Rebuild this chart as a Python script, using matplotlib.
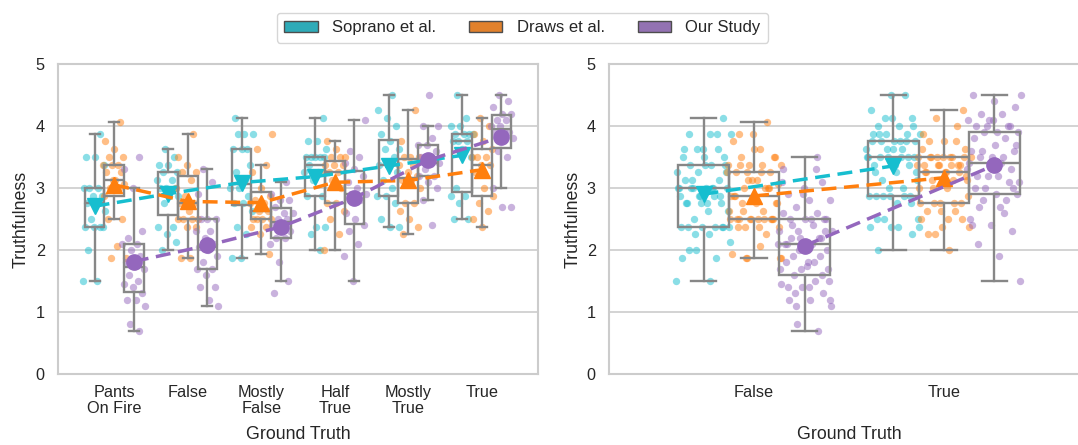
import numpy as np
import matplotlib
matplotlib.use("Agg")
import matplotlib.pyplot as plt
from matplotlib.patches import Patch
import matplotlib.colors as mcolors
import colorsys

plt.rcParams['font.family'] = ['Liberation Sans', 'DejaVu Sans']
plt.rcParams['text.color'] = '#262626'
plt.rcParams['axes.labelcolor'] = '#262626'
plt.rcParams['xtick.color'] = '#262626'
plt.rcParams['ytick.color'] = '#262626'

# ---------------- data ----------------
categories = ["Pants\nOn Fire", "False", "Mostly\nFalse", "Half\nTrue", "Mostly\nTrue", "True"]
binary_categories = ["False", "True"]
studies = ["Soprano et al.", "Draws et al.", "Our Study"]

soprano_pof = [1.5, 1.5, 2.0, 2.375, 2.375, 2.375, 2.375, 2.5, 2.625, 2.75, 2.75, 2.875, 2.875, 3.0, 3.0, 3.0, 3.375, 3.5, 3.5, 3.875]
soprano_false = [2.0, 2.125, 2.25, 2.375, 2.375, 2.75, 2.875, 2.875, 3.0, 3.0, 3.0, 3.125, 3.125, 3.25, 3.25, 3.375, 3.375, 3.5, 3.625]
soprano_mfalse = [1.875, 1.875, 2.25, 2.375, 2.625, 2.75, 2.75, 2.875, 3.0, 3.0, 3.125, 3.25, 3.375, 3.625, 3.625, 3.625, 3.875, 3.875, 3.875, 4.125]
soprano_half = [2.0, 2.25, 2.375, 2.375, 2.875, 2.875, 3.125, 3.25, 3.25, 3.375, 3.5, 3.5, 3.5, 3.5, 3.5, 3.625, 3.75, 3.75, 4.125]
soprano_mtrue = [2.375, 2.375, 2.5, 2.75, 2.875, 2.875, 3.0, 3.125, 3.25, 3.375, 3.375, 3.5, 3.625, 3.625, 3.75, 3.875, 4.0, 4.125, 4.25, 4.5]
soprano_true = [2.5, 2.5, 2.75, 2.875, 2.875, 3.0, 3.5, 3.625, 3.75, 3.75, 3.75, 3.875, 3.875, 3.875, 3.875, 4.0, 4.0, 4.125, 4.5]

draws_pof = [1.875, 1.875, 2.0625, 2.5, 2.5, 3.125, 2.875, 3.0, 3.0, 3.0625, 3.125, 3.25, 3.25, 3.375, 3.375, 3.375, 3.5, 3.5, 3.625, 3.75, 4.0625]
draws_false = [1.875, 1.875, 2.375, 2.375, 2.5, 2.5, 2.5, 2.5, 2.625, 2.75, 2.75, 2.875, 3.0, 3.125, 3.25, 3.25, 3.375, 3.5, 3.875]
draws_mfalse = [1.9375, 2.25, 2.375, 2.375, 2.5, 2.5, 2.5, 2.5, 2.625, 2.625, 2.75, 2.75, 2.8125, 2.875, 3.0, 3.25, 3.375, 3.625, 3.875]
draws_half = [2.0, 2.25, 2.5, 2.625, 2.75, 2.75, 3.0, 3.125, 3.25, 3.25, 3.25, 3.375, 3.375, 3.375, 3.5, 3.5, 3.5, 3.625, 3.75]
draws_mtrue = [2.25, 2.375, 2.5, 2.625, 2.75, 2.75, 3.0, 3.125, 3.125, 3.1875, 3.25, 3.375, 3.375, 3.5, 3.5, 3.5, 3.75, 4.25]
draws_true = [2.375, 2.5, 2.625, 2.75, 2.875, 3.0, 3.25, 3.375, 3.375, 3.5, 3.5, 3.5, 3.625, 3.75, 3.875, 4.0, 4.125]

ours_pof = [0.7, 0.8, 1.1, 1.2, 1.2, 1.3, 1.4, 1.45, 1.5, 1.6, 1.7, 1.75, 1.8, 1.9, 2.0, 2.1, 2.1, 2.2, 2.3, 3.0, 3.3, 3.5]
ours_false = [1.1, 1.2, 1.4, 1.4, 1.6, 1.7, 1.7, 1.8, 1.9, 2.0, 2.05, 2.1, 2.2, 2.3, 2.3, 2.5, 2.5, 2.5, 2.9, 3.1, 3.3]
ours_mfalse = [1.3, 1.5, 1.8, 2.1, 2.2, 2.2, 2.3, 2.4, 2.4, 2.5, 2.5, 2.6, 2.6, 2.7, 2.8, 2.8, 2.9, 3.1]
ours_half = [1.5, 1.9, 2.1, 2.3, 2.4, 2.5, 2.6, 2.8, 2.9, 2.9, 3.0, 3.1, 3.2, 3.3, 3.4, 3.5, 3.6, 4.1]
ours_mtrue = [2.4, 2.8, 3.0, 3.1, 3.2, 3.2, 3.3, 3.4, 3.4, 3.5, 3.6, 3.7, 3.7, 3.8, 4.0, 4.0, 4.5]
ours_true = [2.7, 2.7, 3.0, 3.5, 3.6, 3.8, 3.9, 3.9, 3.9, 4.0, 4.0, 4.1, 4.1, 4.2, 4.2, 4.3, 4.4, 4.5]

soprano = [soprano_pof, soprano_false, soprano_mfalse, soprano_half, soprano_mtrue, soprano_true]
draws = [draws_pof, draws_false, draws_mfalse, draws_half, draws_mtrue, draws_true]
ours = [ours_pof, ours_false, ours_mfalse, ours_half, ours_mtrue, ours_true]
six_way = [soprano, draws, ours]
# binary view: first three labels are "False", last three "True"
binary = [[g[0] + g[1] + g[2], g[3] + g[4] + g[5]] for g in six_way]

# ---------------- style ----------------
colors = ['#17becf', '#ff7f0e', '#9467bd']
markers = ['v', '^', 'o']
box_gray = '#878787'
grid_c = '#cccccc'


def desaturate(c, prop=0.75):
    r, g, b = mcolors.to_rgb(c)
    h, l, s = colorsys.rgb_to_hls(r, g, b)
    return colorsys.hls_to_rgb(h, l, s * prop)


W, H = 1078, 445
fig = plt.figure(figsize=(W / 100, H / 100), dpi=100)
ax_l = fig.add_axes([58 / W, (H - 374) / H, 480 / W, 310 / H])
ax_r = fig.add_axes([609 / W, (H - 374) / H, 480 / W, 310 / H])

width = 0.8 / 3
offsets = [-width, 0.0, width]
golden = 0.6180339887


def draw_panel(ax, data, labels, jit):
    n = len(labels)
    for s in range(3):
        groups = data[s]
        pos = np.arange(n) + offsets[s]
        for i, vals in enumerate(groups):
            k = np.arange(len(vals))
            frac = (k * golden + 0.37 * s + 0.23 * i) % 1.0
            xj = pos[i] + (frac - 0.5) * 2 * jit
            ax.scatter(xj, vals, s=28, color=colors[s], alpha=0.5,
                       linewidths=0, zorder=2)
        lp = dict(color=box_gray, linewidth=1.7)
        ax.boxplot(groups, positions=pos, widths=width, showfliers=False,
                   patch_artist=True, manage_ticks=False,
                   boxprops=dict(facecolor='none', edgecolor=box_gray, linewidth=1.7),
                   whiskerprops=lp, capprops=lp, medianprops=lp, zorder=3)
        means = [np.mean(v) for v in groups]
        ax.plot(pos, means, color=colors[s], linestyle=(0, (4.3, 2.2)),
                linewidth=2.5, marker=markers[s], markersize=11, zorder=4)
    ax.set_xticks(np.arange(n))
    ax.set_xticklabels(labels, fontsize=11.7, linespacing=1.1)
    ax.set_xlim(-0.765, n - 1 + 0.765)
    ax.set_ylim(0, 5)
    ax.set_yticks([0, 1, 2, 3, 4, 5])
    ax.set_yticklabels(['0', '1', '2', '3', '4', '5'], fontsize=11.7)
    ax.tick_params(axis='x', length=0, pad=8)
    ax.tick_params(axis='y', length=0, pad=9.5)
    ax.set_xlabel("Ground Truth", fontsize=12.8)
    ax.xaxis.set_label_coords(0.5, -0.168)
    ax.set_ylabel("Truthfulness", fontsize=12.8, labelpad=4)
    ax.yaxis.grid(True, color=grid_c, linewidth=1.2, zorder=0)
    ax.xaxis.grid(False)
    ax.set_axisbelow(True)
    for sp in ax.spines.values():
        sp.set_color(grid_c)
        sp.set_linewidth(1.5)


draw_panel(ax_l, six_way, categories, 0.16)
draw_panel(ax_r, binary, binary_categories, 0.145)

handles = [Patch(facecolor=desaturate(c), edgecolor='#4d4d4d', linewidth=1.0) for c in colors]
leg = fig.legend(handles, studies, ncol=3, loc='upper center',
                 bbox_to_anchor=(0.4847, 0.99), fontsize=12, frameon=True,
                 handlelength=2.0, handletextpad=0.85, columnspacing=2.0,
                 borderpad=0.45, fancybox=True)
leg.get_frame().set_edgecolor(grid_c)
leg.get_frame().set_linewidth(1.0)

fig.savefig("out.png", dpi=100)
